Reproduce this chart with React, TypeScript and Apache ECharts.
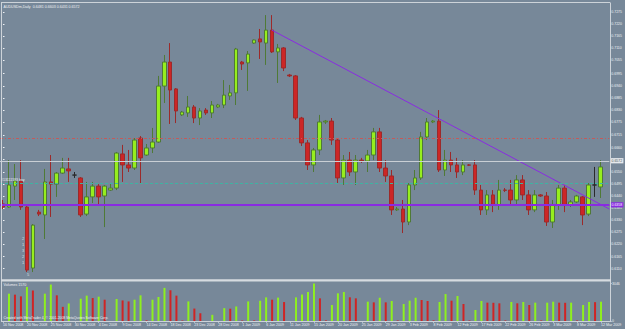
import { useEffect, useRef } from 'react';
import * as echarts from 'echarts';

const SYMBOL = 'AUDUSDm,Daily';

const DATES = [
  '16 Nov 2008','17 Nov 2008','18 Nov 2008','19 Nov 2008','20 Nov 2008','21 Nov 2008','23 Nov 2008','24 Nov 2008','25 Nov 2008','26 Nov 2008',
  '27 Nov 2008','28 Nov 2008','30 Nov 2008','1 Dec 2008','2 Dec 2008','3 Dec 2008','4 Dec 2008','5 Dec 2008','7 Dec 2008','8 Dec 2008',
  '9 Dec 2008','10 Dec 2008','11 Dec 2008','12 Dec 2008','14 Dec 2008','15 Dec 2008','16 Dec 2008','17 Dec 2008','18 Dec 2008','19 Dec 2008',
  '21 Dec 2008','22 Dec 2008','23 Dec 2008','24 Dec 2008','25 Dec 2008','26 Dec 2008','28 Dec 2008','29 Dec 2008','30 Dec 2008','31 Dec 2008',
  '1 Jan 2009','2 Jan 2009','4 Jan 2009','5 Jan 2009','6 Jan 2009','7 Jan 2009','8 Jan 2009','9 Jan 2009','11 Jan 2009','12 Jan 2009',
  '13 Jan 2009','14 Jan 2009','15 Jan 2009','16 Jan 2009','18 Jan 2009','19 Jan 2009','20 Jan 2009','21 Jan 2009','22 Jan 2009','23 Jan 2009',
  '25 Jan 2009','26 Jan 2009','27 Jan 2009','28 Jan 2009','29 Jan 2009','30 Jan 2009','1 Feb 2009','2 Feb 2009','3 Feb 2009','4 Feb 2009',
  '5 Feb 2009','6 Feb 2009','8 Feb 2009','9 Feb 2009','10 Feb 2009','11 Feb 2009','12 Feb 2009','13 Feb 2009','15 Feb 2009','16 Feb 2009',
  '17 Feb 2009','18 Feb 2009','19 Feb 2009','20 Feb 2009','22 Feb 2009','23 Feb 2009','24 Feb 2009','25 Feb 2009','26 Feb 2009','27 Feb 2009',
  '1 Mar 2009','2 Mar 2009','3 Mar 2009','4 Mar 2009','5 Mar 2009','6 Mar 2009','8 Mar 2009','9 Mar 2009','10 Mar 2009','11 Mar 2009',
  '12 Mar 2009',
];

// [open, close, low, high]
const OHLC = [
  [0.6404, 0.6390, 0.6381, 0.6422], [0.6390, 0.6490, 0.6386, 0.6603], [0.6485, 0.6508, 0.6422, 0.6585], [0.6508, 0.6390, 0.6377, 0.6603],
  [0.6390, 0.6104, 0.6095, 0.6399], [0.6113, 0.6308, 0.6095, 0.6313], [0.6367, 0.6358, 0.6349, 0.6377], [0.6354, 0.6504, 0.6245, 0.6563],
  [0.6504, 0.6494, 0.6345, 0.6626], [0.6494, 0.6544, 0.6436, 0.6549], [0.6544, 0.6567, 0.6540, 0.6613], [0.6563, 0.6554, 0.6504, 0.6613],
  [0.6535, 0.6535, 0.6522, 0.6549], [0.6522, 0.6354, 0.6345, 0.6526], [0.6358, 0.6436, 0.6349, 0.6504], [0.6436, 0.6485, 0.6408, 0.6504],
  [0.6485, 0.6436, 0.6399, 0.6494], [0.6440, 0.6485, 0.6299, 0.6490], [0.6467, 0.6476, 0.6463, 0.6499], [0.6476, 0.6635, 0.6467, 0.6640],
  [0.6631, 0.6581, 0.6504, 0.6672], [0.6581, 0.6567, 0.6549, 0.6649], [0.6567, 0.6694, 0.6558, 0.6703], [0.6703, 0.6613, 0.6499, 0.6712],
  [0.6626, 0.6658, 0.6622, 0.6676], [0.6658, 0.6685, 0.6635, 0.6749], [0.6685, 0.6939, 0.6681, 0.6985], [0.6939, 0.7048, 0.6862, 0.7080],
  [0.7048, 0.6921, 0.6767, 0.7134], [0.6926, 0.6826, 0.6771, 0.6930], [0.6808, 0.6821, 0.6803, 0.6826], [0.6817, 0.6844, 0.6799, 0.6894],
  [0.6844, 0.6794, 0.6771, 0.6853], [0.6794, 0.6826, 0.6762, 0.6839], [0.6830, 0.6817, 0.6808, 0.6839], [0.6817, 0.6853, 0.6794, 0.6871],
  [0.6844, 0.6853, 0.6839, 0.6858], [0.6853, 0.6898, 0.6839, 0.6966], [0.6894, 0.6908, 0.6876, 0.6944], [0.6908, 0.7107, 0.6853, 0.7112],
  [0.7048, 0.7039, 0.7012, 0.7053], [0.7044, 0.7084, 0.6917, 0.7098], [0.7134, 0.7148, 0.7130, 0.7150], [0.7153, 0.7139, 0.7062, 0.7198],
  [0.7134, 0.7193, 0.7035, 0.7261], [0.7193, 0.7094, 0.7089, 0.7261], [0.7094, 0.7112, 0.6953, 0.7130], [0.7112, 0.7021, 0.7007, 0.7116],
  [0.6989, 0.6985, 0.6980, 0.6994], [0.6985, 0.6794, 0.6785, 0.6989], [0.6794, 0.6681, 0.6667, 0.6799], [0.6681, 0.6581, 0.6558, 0.6694],
  [0.6581, 0.6649, 0.6549, 0.6658], [0.6649, 0.6776, 0.6626, 0.6808], [0.6776, 0.6780, 0.6767, 0.6785], [0.6780, 0.6694, 0.6672, 0.6794],
  [0.6694, 0.6522, 0.6499, 0.6703], [0.6522, 0.6603, 0.6490, 0.6626], [0.6603, 0.6549, 0.6531, 0.6640], [0.6549, 0.6603, 0.6490, 0.6626],
  [0.6603, 0.6599, 0.6590, 0.6613], [0.6599, 0.6626, 0.6549, 0.6649], [0.6626, 0.6731, 0.6603, 0.6749], [0.6731, 0.6567, 0.6549, 0.6749],
  [0.6567, 0.6531, 0.6504, 0.6603], [0.6531, 0.6377, 0.6354, 0.6558], [0.6377, 0.6381, 0.6372, 0.6390], [0.6381, 0.6322, 0.6272, 0.6422],
  [0.6322, 0.6490, 0.6308, 0.6499], [0.6490, 0.6522, 0.6467, 0.6558], [0.6522, 0.6708, 0.6513, 0.6731], [0.6708, 0.6776, 0.6694, 0.6794],
  [0.6776, 0.6780, 0.6771, 0.6785], [0.6780, 0.6558, 0.6549, 0.6830], [0.6558, 0.6603, 0.6531, 0.6649], [0.6603, 0.6581, 0.6549, 0.6640],
  [0.6581, 0.6549, 0.6522, 0.6613], [0.6549, 0.6581, 0.6535, 0.6603], [0.6581, 0.6580, 0.6576, 0.6585], [0.6581, 0.6467, 0.6445, 0.6603],
  [0.6467, 0.6377, 0.6354, 0.6490], [0.6377, 0.6445, 0.6354, 0.6467], [0.6445, 0.6399, 0.6367, 0.6467], [0.6399, 0.6467, 0.6377, 0.6513],
  [0.6467, 0.6466, 0.6458, 0.6476], [0.6467, 0.6422, 0.6399, 0.6513], [0.6422, 0.6513, 0.6399, 0.6535], [0.6513, 0.6445, 0.6422, 0.6535],
  [0.6445, 0.6377, 0.6354, 0.6467], [0.6377, 0.6445, 0.6367, 0.6467], [0.6445, 0.6440, 0.6436, 0.6449], [0.6440, 0.6322, 0.6304, 0.6458],
  [0.6322, 0.6399, 0.6295, 0.6422], [0.6399, 0.6476, 0.6377, 0.6490], [0.6476, 0.6399, 0.6367, 0.6490], [0.6399, 0.6413, 0.6390, 0.6422],
  [0.6413, 0.6440, 0.6408, 0.6445], [0.6436, 0.6354, 0.6308, 0.6440], [0.6358, 0.6490, 0.6349, 0.6499], [0.6490, 0.6490, 0.6436, 0.6572],
  [0.6481, 0.6572, 0.6431, 0.6603],
];

const VOLUME = [
  0, 2220, 2140, 2000, 2770, 2470, 0, 2220, 2960, 2085,
  1150, 1425, 0, 1810, 2060, 1865, 1975, 1730, 0, 1785,
  1670, 1590, 1730, 2085, 50, 1730, 1950, 2690, 2495, 2060,
  40, 1590, 1010, 630, 0, 500, 0, 1045, 1000, 1180,
  40, 1590, 45, 1645, 1920, 1730, 1900, 1540, 0, 1920,
  2150, 2355, 3046, 1840, 50, 1300, 2250, 2355, 1925, 1840,
  0, 1570, 1515, 1890, 1515, 1625, 45, 1380, 1650, 1890,
  1705, 1625, 50, 1545, 2190, 1650, 2030, 1380, 45, 895,
  1625, 1490, 1480, 1435, 45, 1545, 1435, 1545, 1300, 1490,
  45, 1490, 1570, 1490, 1480, 1490, 45, 1300, 1545, 1530,
  1570,
];

const PRICE_TICKS = [
  '0.6110', '0.6165', '0.6220', '0.6275', '0.6330', '0.6385', '0.6440', '0.6495', '0.6550', '0.6605', '0.6660',
  '0.6715', '0.6775', '0.6830', '0.6885', '0.6940', '0.6995', '0.7055', '0.7110', '0.7165', '0.7220', '0.7275',
];

const LEVEL_HLINE = 0.6358;
const LEVEL_BUY = 0.6540;
const LEVEL_TP = 0.6735;
const LEVEL_SL = 0.6413;
const BUY_LABEL = '#13111593 buy';
const TREND = [[45, 0.7193], [101.5, 0.6381]];
// small numeric markers stacked beside the 20 Nov candle: [bar index, price, text]
const MARKS: [number, number, string][] = [
  [3.35, 0.6245, '2'], [3.35, 0.6218, '1'], [3.35, 0.6191, '3'], [3.35, 0.6164, '2'], [3.35, 0.6137, '1'], [4.2, 0.6085, '5'],
];

const BG = '#778899';
const FG = '#eef1f4';
const FRAME = '#cdd3d9';
const BULL = '#96ee1e';
const BEAR = '#cc2626';
const BULL_EDGE = '#4f7a36';
const BEAR_EDGE = '#9c2a2a';
const VIOLET = '#8a2be2';

export default function App() {
  const ref = useRef<HTMLDivElement>(null);
  useEffect(() => {
    if (!ref.current) return;
    const chart = echarts.init(ref.current, undefined, { renderer: 'svg' });
    const cats = [...DATES, ''];
    const n = DATES.length;
    const last = OHLC[n - 1];
    const bid = last[1];
    const volMax = Math.max(...VOLUME);
    const font = 'Liberation Sans';
    const tickShow = (i: number) => i % 4 === 0 && i < n;

    chart.setOption({
      animation: false,
      backgroundColor: BG,
      textStyle: { fontFamily: font },
      grid: [
        { left: -1.3, right: 15, top: 3, height: 276 },
        { left: -1.3, right: 15, top: 281, height: 40 },
      ],
      xAxis: [
        { type: 'category', gridIndex: 0, data: cats, boundaryGap: true, show: false },
        {
          type: 'category', gridIndex: 1, data: cats, boundaryGap: true,
          axisLine: { show: false },
          axisTick: { show: true, alignWithLabel: true, interval: tickShow, length: 1.5, lineStyle: { color: FG } },
          axisLabel: { interval: tickShow, align: 'left', fontSize: 3.6, color: FG, margin: 2 },
        },
        { type: 'value', gridIndex: 0, min: -0.5, max: cats.length - 0.5, show: false },
      ],
      yAxis: [
        {
          type: 'value', gridIndex: 0, position: 'right', min: 0.60634, max: 0.73159, scale: true,
          axisLine: { show: false }, splitLine: { show: false },
          axisTick: { show: true, customValues: PRICE_TICKS.map(Number), length: 1.5, lineStyle: { color: FG } },
          axisLabel: { customValues: PRICE_TICKS.map(Number), formatter: (v: number) => v.toFixed(4), fontSize: 3.5, color: FG, margin: 2 },
        },
        {
          type: 'value', gridIndex: 1, position: 'right', min: 0, max: volMax * 40 / 37.5,
          axisLine: { show: false }, splitLine: { show: false },
          axisTick: { show: true, customValues: [0, volMax], length: 1.5, lineStyle: { color: FG } },
          axisLabel: { customValues: [0, volMax], formatter: (v: number) => String(v), fontSize: 3.5, color: FG, margin: 2 },
        },
      ],
      series: [
        {
          type: 'candlestick', xAxisIndex: 0, yAxisIndex: 0, data: OHLC, barWidth: 4,
          itemStyle: { color: BULL, color0: BEAR, borderColor: BULL_EDGE, borderColor0: BEAR_EDGE, borderColorDoji: '#2a2a2a', borderWidth: 1 },
          markLine: {
            symbol: 'none', silent: true, animation: false,
            data: [
              { yAxis: LEVEL_TP, lineStyle: { color: '#c45a5a', type: [3, 2, 1, 2], width: 1 }, label: { show: false } },
              { yAxis: LEVEL_SL, lineStyle: { color: '#c45a5a', type: [3, 2, 1, 2], width: 1 }, label: { show: false } },
              {
                yAxis: LEVEL_BUY, lineStyle: { color: '#3fb3a3', type: [3, 2], width: 1 },
                label: { show: true, position: 'insideStartTop', formatter: BUY_LABEL, color: FG, fontSize: 3.5, distance: 1 },
              },
              {
                yAxis: bid, lineStyle: { color: '#c9cfd5', type: 'solid', width: 1 },
                label: { show: true, position: 'end', formatter: bid.toFixed(4), backgroundColor: '#e6e9ec', color: '#4a5560', fontSize: 3.5, padding: [0.6, 1.2], distance: 1 },
              },
              {
                yAxis: LEVEL_HLINE, lineStyle: { color: VIOLET, type: 'solid', width: 2 },
                label: { show: true, position: 'end', formatter: LEVEL_HLINE.toFixed(4), backgroundColor: VIOLET, color: '#ffffff', fontSize: 3.5, padding: [0.6, 1.2], distance: 1 },
              },
            ],
          },
        },
        {
          type: 'line', xAxisIndex: 2, yAxisIndex: 0, data: TREND, symbol: 'none', silent: true,
          lineStyle: { color: VIOLET, width: 1 },
        },
        {
          type: 'scatter', xAxisIndex: 2, yAxisIndex: 0, silent: true, symbolSize: 0,
          data: MARKS.map(([x, y, t]) => ({ value: [x, y], name: t })),
          label: { show: true, position: 'inside', formatter: (p: any) => p.name, color: FG, fontSize: 4 },
        },
        {
          type: 'bar', xAxisIndex: 1, yAxisIndex: 1, barWidth: 2,
          data: VOLUME.map((v, i) => ({ value: v, itemStyle: { color: i > 0 && v > VOLUME[i - 1] ? '#8ef01e' : '#d02424' } })),
        },
      ],
      graphic: [
        { type: 'line', shape: { x1: 1, y1: 2.5, x2: 610, y2: 2.5 }, style: { stroke: FRAME, lineWidth: 1 }, z: 100 },
        { type: 'line', shape: { x1: 1.5, y1: 2.5, x2: 1.5, y2: 322 }, style: { stroke: FRAME, lineWidth: 1 }, z: 100 },
        { type: 'line', shape: { x1: 610.5, y1: 2.5, x2: 610.5, y2: 322 }, style: { stroke: FRAME, lineWidth: 1 }, z: 100 },
        { type: 'line', shape: { x1: 1, y1: 321.5, x2: 611, y2: 321.5 }, style: { stroke: FRAME, lineWidth: 1 }, z: 100 },
        { type: 'rect', shape: { x: 1, y: 279.2, width: 610, height: 2.2 }, style: { fill: '#d6dbe0' }, z: 100 },
        {
          type: 'text', x: 3.5, y: 4.5, z: 100,
          style: { text: `${SYMBOL}  ${last[0].toFixed(4)} ${last[3].toFixed(4)} ${last[2].toFixed(4)} ${last[1].toFixed(4)}`, fill: FG, fontSize: 3.6, fontFamily: font },
        },
        {
          type: 'text', x: 3.5, y: 283, z: 100,
          style: { text: `Volumes ${VOLUME[n - 1]}`, fill: FG, fontSize: 3.6, fontFamily: font },
        },
        {
          type: 'text', x: 3.5, y: 316.5, z: 100,
          style: { text: 'Created with MetaTrader 4, \u00a9 2001-2008 MetaQuotes Software Corp.', fill: FG, fontSize: 3.4, fontFamily: font },
        },
      ],
    });
    return () => chart.dispose();
  }, []);
  return <div ref={ref} style={{ position: 'fixed', left: 0, top: 0, width: 625, height: 329, background: BG }} />;
}
